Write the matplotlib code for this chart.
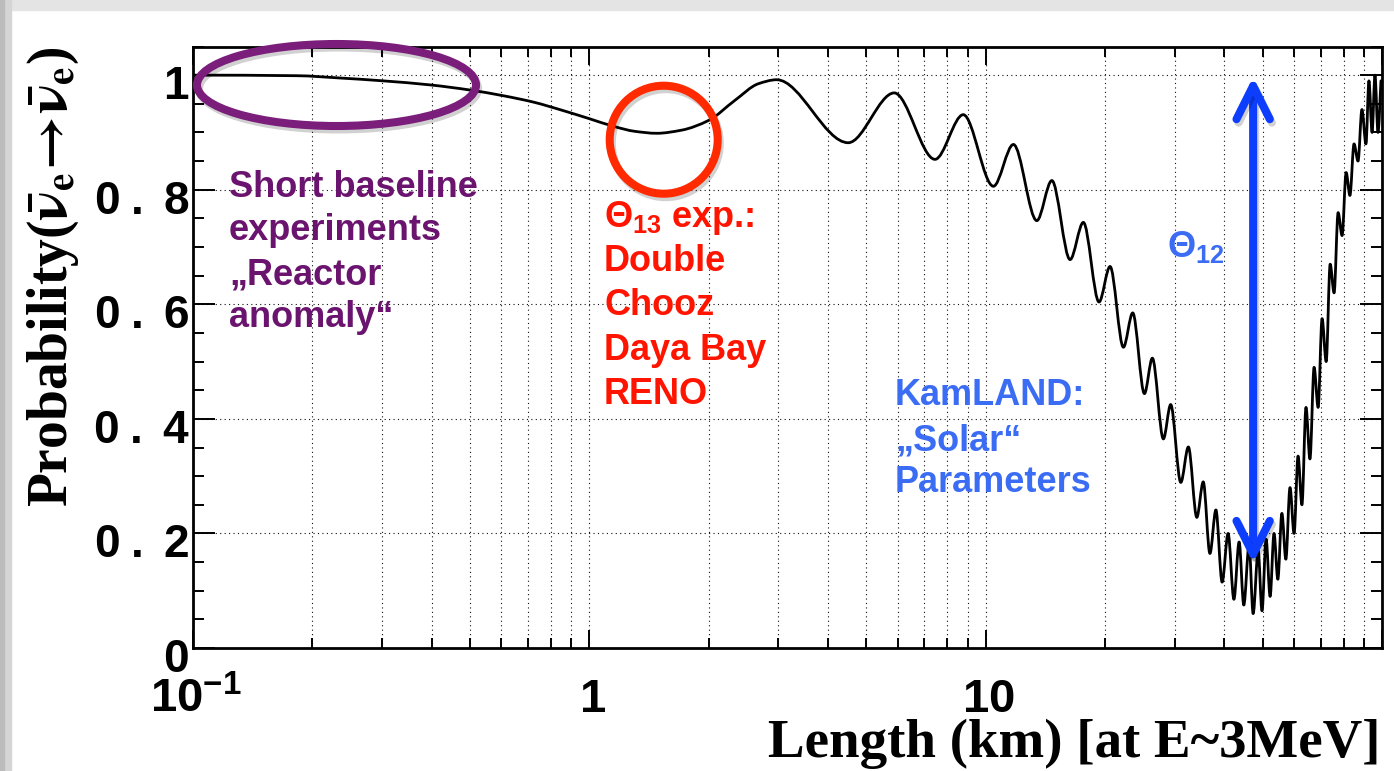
import numpy as np
import matplotlib
matplotlib.use("Agg")
import matplotlib.pyplot as plt
from matplotlib import patheffects as pe
from matplotlib import transforms as mtransforms
from matplotlib.patches import Ellipse, PathPatch, Rectangle
from matplotlib.path import Path
from matplotlib.ticker import FixedLocator, NullFormatter

# ---------------------------------------------------------------------------
# Reactor anti-neutrino survival probability (E ~ 3 MeV), read point by point
# ---------------------------------------------------------------------------
distance_km = [
    0.100, 0.183, 0.235, 0.302, 0.396, 0.500, 0.607, 0.722, 0.860, 1.00,
    1.16, 1.30, 1.48, 1.71, 2.00, 2.33, 2.67, 2.97,
    4.50, 5.88, 7.45, 8.78, 10.46, 11.75, 13.46, 14.69, 16.33, 17.64,
    19.32, 20.6, 22.26, 23.5, 25.15, 26.34, 28.08, 29.3, 31.07, 32.47,
    34.1, 35.4, 36.8, 38.1,
    39.5, 40.9, 42.3, 43.6, 44.8, 46.2, 47.3, 48.7, 49.8, 51.0,
    52.2, 53.4, 54.6, 55.9, 57.2, 58.6, 60.0, 61.4, 62.8, 64.3,
    65.8, 67.4, 69.0, 70.6, 72.3, 74.0, 75.7, 77.5, 79.3, 81.2,
    83.0, 85.0, 87.0, 89.0, 91.1, 92.7, 94.4, 96.0, 97.7, 99.4,
]
survival_prob = [
    1.000, 0.999, 0.995, 0.990, 0.983, 0.974, 0.964, 0.953, 0.938, 0.924,
    0.910, 0.902, 0.8985, 0.904, 0.921, 0.956, 0.985, 0.992,
    0.882, 0.969, 0.853, 0.931, 0.806, 0.879, 0.746, 0.816, 0.678, 0.743,
    0.604, 0.666, 0.525, 0.585, 0.444, 0.506, 0.365, 0.425, 0.289, 0.351,
    0.228, 0.290, 0.165, 0.241,
    0.115, 0.200, 0.085, 0.185, 0.075, 0.180, 0.060, 0.170, 0.065, 0.190,
    0.090, 0.200, 0.120, 0.235, 0.155, 0.280, 0.200, 0.335, 0.250, 0.420,
    0.330, 0.490, 0.420, 0.575, 0.500, 0.670, 0.620, 0.760, 0.720, 0.830,
    0.790, 0.880, 0.850, 0.940, 0.880, 0.990, 0.900, 1.000, 0.900, 0.990,
]

y_tick_values = [0.0, 0.2, 0.4, 0.6, 0.8, 1.0]
y_tick_labels = [r"$\mathrm{0}$", r"$\mathrm{0\;.\;2}$", r"$\mathrm{0\;.\;4}$",
                 r"$\mathrm{0\;.\;6}$", r"$\mathrm{0\;.\;8}$", r"$\mathrm{1}$"]
x_tick_values = [0.1, 1.0, 10.0]
x_tick_labels = [r"$\mathrm{10^{-1}}$", r"$\mathrm{1}$", r"$\mathrm{10}$"]

x_title = "Length (km) [at E~3MeV]"
y_title = r"Probability($\mathbf{\bar{\nu}_{e}\!\rightarrow\!\bar{\nu}_{e}}$)"

short_baseline_lines = ["Short baseline", "experiments", "\u201eReactor", "anomaly\u201c"]
theta13_lines = [r"$\Theta_{13}$ exp.:", "Double", "Chooz", "Daya Bay", "RENO"]
kamland_lines = ["KamLAND:", "\u201eSolar\u201c", "Parameters"]
theta12_label = r"$\Theta_{12}$"

# ---------------------------------------------------------------------------
plt.rcParams["font.family"] = ["Liberation Sans", "DejaVu Sans"]
plt.rcParams["mathtext.fontset"] = "custom"
plt.rcParams["mathtext.rm"] = "Liberation Sans:bold"
plt.rcParams["mathtext.it"] = "Liberation Sans:bold"
plt.rcParams["mathtext.bf"] = "Liberation Sans:bold"

W, H = 1394, 771
fig = plt.figure(figsize=(W / 100, H / 100), dpi=100, facecolor="white")


def fx(px):
    return px / W


def fy(py):
    return 1 - py / H


# light grey slide frame along the top and left edges
fig.patches.append(Rectangle((0, fy(10)), 1, 10 / H, transform=fig.transFigure,
                             color="#e4e4e4", zorder=0))
fig.patches.append(Rectangle((0, 0), 11 / W, 1, transform=fig.transFigure,
                             color="#d5d5d5", zorder=0))
fig.patches.append(Rectangle((0, 0), 4 / W, 1, transform=fig.transFigure,
                             color="#bcbcbc", zorder=0))

ax = fig.add_axes([fx(193), fy(648), 1189 / W, 601.5 / H])
ax.set_facecolor("white")
ax.set_xscale("log")
ax.set_xlim(0.1, 100)
ax.set_ylim(0, 1.05)

ax.xaxis.set_major_locator(FixedLocator([0.1, 1, 10, 100]))
ax.xaxis.set_minor_locator(FixedLocator(
    [m * d for d in (0.1, 1, 10) for m in range(2, 10)]))
ax.yaxis.set_major_locator(FixedLocator(y_tick_values))
ax.yaxis.set_minor_locator(FixedLocator(np.arange(0, 1.051, 0.05)))
ax.xaxis.set_major_formatter(NullFormatter())
ax.xaxis.set_minor_formatter(NullFormatter())
ax.yaxis.set_major_formatter(NullFormatter())

ax.tick_params(which="both", direction="in", top=True, right=True,
               labelbottom=False, labelleft=False, width=1.4, color="black")
ax.tick_params(axis="y", which="major", length=15.5)
ax.tick_params(axis="y", which="minor", length=8)
ax.tick_params(axis="x", which="major", length=13)
ax.tick_params(axis="x", which="minor", length=7)
for s in ax.spines.values():
    s.set_linewidth(2.0)

grid_kw = dict(color="#111111", linewidth=0.8, linestyle=(0, (1, 3)))
ax.grid(True, which="both", axis="x", **grid_kw)
ax.grid(True, which="major", axis="y", **grid_kw)
ax.set_axisbelow(True)


def smooth_curve(xs, ys):
    """Monotone cubic (Fritsch-Carlson) Bezier path in log-x / linear-y space."""
    u = np.log10(np.asarray(xs, float))
    v = np.asarray(ys, float)
    h = np.diff(u)
    d = np.diff(v) / h
    m = np.zeros_like(v)
    m[0], m[-1] = 0.0, d[-1]
    for i in range(1, len(v) - 1):
        if d[i - 1] * d[i] <= 0:
            m[i] = 0.0
        else:
            w1 = 2 * h[i] + h[i - 1]
            w2 = h[i] + 2 * h[i - 1]
            m[i] = (w1 + w2) / (w1 / d[i - 1] + w2 / d[i])
    verts = [(u[0], v[0])]
    codes = [Path.MOVETO]
    for i in range(len(h)):
        verts += [(u[i] + h[i] / 3, v[i] + m[i] * h[i] / 3),
                  (u[i + 1] - h[i] / 3, v[i + 1] - m[i + 1] * h[i] / 3),
                  (u[i + 1], v[i + 1])]
        codes += [Path.CURVE4] * 3
    verts = np.array(verts)
    verts[:, 0] = 10 ** verts[:, 0]
    return Path(verts, codes)


curve = PathPatch(smooth_curve(distance_km, survival_prob), transform=ax.transData,
                  fill=False, edgecolor="black", linewidth=2.0,
                  joinstyle="round", capstyle="round", zorder=3)
ax.add_patch(curve)

# tick labels
ylab_tr = mtransforms.offset_copy(
    mtransforms.blended_transform_factory(ax.transAxes, ax.transData),
    fig=fig, x=-4, y=-24, units="dots")
for v, t in zip(y_tick_values, y_tick_labels):
    ax.text(0, v, t, transform=ylab_tr, ha="right", va="baseline",
            clip_on=False, size=33, math_fontfamily="custom")
xlab_tr = mtransforms.offset_copy(
    mtransforms.blended_transform_factory(ax.transData, ax.transAxes),
    fig=fig, x=3, y=-(712 - 648), units="dots")
for v, t in zip(x_tick_values, x_tick_labels):
    ax.text(v, 0, t, transform=xlab_tr, ha="center", va="baseline",
            clip_on=False, size=34, math_fontfamily="custom")

# axis titles
fig.text(fx(1381), fy(757), x_title, ha="right", va="baseline",
         family="Liberation Serif", weight="bold", size=39.5)
fig.text(fx(53), fy(46), y_title, rotation=90, ha="center", va="top",
         family="Liberation Serif", weight="bold", size=40,
         math_fontfamily="stix")

# highlight shapes with a soft drop shadow
shadow = [pe.SimpleLineShadow(offset=(1.5, -2.5), shadow_color="black", alpha=0.18),
          pe.Normal()]
purple_ring = Ellipse((0.12069, 0.93599), 0.23465, 0.13633, transform=ax.transAxes,
                      fill=False, edgecolor="#7b1e7b", linewidth=5.8,
                      clip_on=False, zorder=6, path_effects=shadow)
ax.add_patch(purple_ring)
red_ring = Ellipse((0.39588, 0.84505), 0.09083, 0.17955, transform=ax.transAxes,
                   fill=False, edgecolor="#ff2a00", linewidth=5.8,
                   clip_on=False, zorder=6, path_effects=shadow)
ax.add_patch(red_ring)

ax.annotate("", xy=(47.3, 0.148), xytext=(47.3, 0.997),
            arrowprops=dict(arrowstyle="<->,head_length=24,head_width=12",
                            mutation_scale=1, color="#0d3dfd", linewidth=5.8,
                            shrinkA=0, shrinkB=0, capstyle="round",
                            joinstyle="round", path_effects=shadow),
            zorder=6, annotation_clip=False)

# annotation texts
note_font = dict(family="Liberation Sans", weight="bold", size=26)
for txt, base in zip(short_baseline_lines, [197, 240, 284, 327]):
    fig.text(fx(229), fy(base), txt, color="#6b146f", va="baseline", **note_font)
for txt, base in zip(theta13_lines, [227, 271, 315, 360, 404]):
    fig.text(fx(604), fy(base), txt, color="#ff1400", va="baseline", **note_font)
for txt, base in zip(kamland_lines, [405, 450, 492]):
    fig.text(fx(895), fy(base), txt, color="#3b6cf4", va="baseline", **note_font)
fig.text(fx(1167), fy(257), theta12_label, color="#3b6cf4", va="baseline", **note_font)

fig.savefig("out.png", dpi=100, facecolor=fig.get_facecolor())
